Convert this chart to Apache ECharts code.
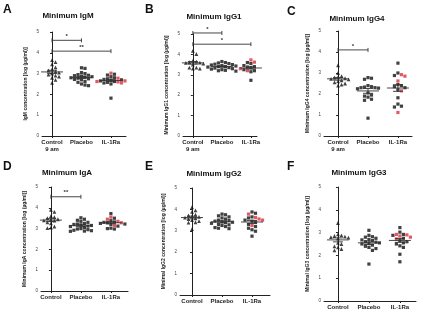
<!DOCTYPE html>
<html>
<head>
<meta charset="utf-8">
<script src="https://cdn.jsdelivr.net/npm/echarts@6/dist/echarts.min.js"></script>
<style>
  html, body { margin: 0; padding: 0; background: #fff; }
  #chart { width: 426px; height: 316px; }
</style>
</head>
<body>
<div id="chart"></div>
<script>
// group labels
const groupsAm = ['Control\n9 am', 'Placebo', 'IL-1Ra'];
const groupsPlain = ['Control', 'Placebo', 'IL-1Ra'];

// A - IgM
const igmControl = [3.65, 3.55, 3.45, 3.3, 3.2, 3.15, 3.1, 3.05, 3.0, 2.95, 2.9, 2.85, 2.8, 2.7, 2.55];
const igmPlacebo = [3.28, 3.25, 3.05, 3.0, 2.95, 2.92, 2.9, 2.88, 2.85, 2.83, 2.8, 2.78, 2.75, 2.72, 2.7, 2.62, 2.58, 2.5, 2.45, 2.42];
const igmIl1raBlack = [2.97, 2.93, 2.85, 2.8, 2.75, 2.72, 2.7, 2.68, 2.65, 2.62, 2.58, 2.55, 2.5, 1.82];
const igmIl1raRed = [3.02, 2.78, 2.65, 2.6, 2.55, 2.62];
const igmSig = [[0, 1, 4.6], [0, 2, 4.08]];
const igmStars = ['*', '**'];

// B - IgG1
const igg1Control = [4.17, 4.02, 3.68, 3.65, 3.62, 3.6, 3.58, 3.55, 3.52, 3.5, 3.35, 3.3, 3.3, 3.35];
const igg1Placebo = [3.65, 3.6, 3.58, 3.55, 3.52, 3.5, 3.48, 3.45, 3.43, 3.4, 3.4, 3.38, 3.35, 3.33, 3.3, 3.28, 3.25, 3.22, 3.2, 3.18];
const igg1Il1raBlack = [3.6, 3.55, 3.5, 3.45, 3.4, 3.38, 3.35, 3.3, 3.28, 3.25, 3.2, 3.15, 2.73];
const igg1Il1raRed = [3.73, 3.62, 3.45, 3.3, 3.2, 3.15, 3.1];
const igg1Sig = [[0, 1, 5.05], [0, 2, 4.5]];
const igg1Stars = ['*', '*'];

// C - IgG4
const igg4Control = [3.37, 3.0, 2.85, 2.8, 2.78, 2.75, 2.72, 2.7, 2.65, 2.6, 2.55, 2.5, 2.45, 2.4];
const igg4Placebo = [2.78, 2.75, 2.7, 2.4, 2.35, 2.33, 2.3, 2.3, 2.28, 2.25, 2.05, 1.95, 1.9, 1.85, 1.75, 1.7, 0.85];
const igg4Il1raBlack = [3.47, 3.0, 2.88, 2.45, 2.4, 2.35, 2.3, 2.2, 1.82, 1.52, 1.42, 1.38];
const igg4Il1raRed = [2.92, 2.85, 2.62, 2.15, 1.12];
const igg4Sig = [[0, 1, 4.1]];
const igg4Stars = ['*'];

// D - IgA
const igaControl = [3.9, 3.8, 3.6, 3.55, 3.5, 3.45, 3.42, 3.4, 3.38, 3.3, 3.25, 3.1, 3.05, 3.02];
const igaPlacebo = [3.52, 3.45, 3.4, 3.35, 3.3, 3.25, 3.22, 3.2, 3.18, 3.15, 3.12, 3.1, 3.05, 3.0, 2.98, 2.95, 2.92, 2.9, 2.88, 2.87];
const igaIl1raBlack = [3.72, 3.5, 3.38, 3.32, 3.3, 3.28, 3.25, 3.22, 3.2, 3.12, 3.02, 3.0, 2.98];
const igaIl1raRed = [3.55, 3.45, 3.35, 3.28, 3.15];
const igaSig = [[0, 1, 4.53]];
const igaStars = ['**'];

// E - IgG2
const igg2Control = [4.1, 3.95, 3.88, 3.75, 3.72, 3.68, 3.65, 3.62, 3.58, 3.55, 3.5, 3.45, 3.4, 3.38, 3.08];
const igg2Placebo = [3.78, 3.75, 3.7, 3.65, 3.6, 3.55, 3.5, 3.48, 3.45, 3.42, 3.4, 3.38, 3.35, 3.3, 3.28, 3.25, 3.2, 3.15, 3.12, 3.1];
const igg2Il1raBlack = [3.88, 3.82, 3.65, 3.6, 3.5, 3.45, 3.4, 3.3, 3.2, 3.12, 3.05, 2.98, 2.75];
const igg2Il1raRed = [3.78, 3.62, 3.55, 3.5, 3.25];

// F - IgG3
const igg3Control = [3.42, 2.92, 2.88, 2.85, 2.82, 2.8, 2.78, 2.75, 2.55, 2.5, 2.4, 2.35, 2.28, 2.22];
const igg3Placebo = [3.1, 2.88, 2.82, 2.8, 2.75, 2.7, 2.68, 2.65, 2.6, 2.58, 2.55, 2.52, 2.5, 2.45, 2.4, 2.35, 2.3, 2.22, 1.62];
const igg3Il1raBlack = [3.22, 3.02, 2.92, 2.88, 2.75, 2.65, 2.6, 2.55, 2.5, 2.42, 2.35, 2.05, 1.72];
const igg3Il1raRed = [2.92, 2.9, 2.85, 2.8, 2.72];

const panels = [
  { letter: 'A', title: 'Minimum IgM', yName: 'IgM concentration [log (µg/ml)]', labels: groupsAm,
    ctrl: igmControl, plac: igmPlacebo, ilB: igmIl1raBlack, ilR: igmIl1raRed, sig: igmSig, stars: igmStars,
    grid: { left: 42, top: 32, width: 84, height: 104 }, xr: [-0.34, 2.51],
    letterAt: [3, 4], titleAt: [68, 12] },
  { letter: 'B', title: 'Minimum IgG1', yName: 'Minimum IgG1 concentration [log (µg/ml)]', labels: groupsAm,
    ctrl: igg1Control, plac: igg1Placebo, ilB: igg1Il1raBlack, ilR: igg1Il1raRed, sig: igg1Sig, stars: igg1Stars,
    grid: { left: 183, top: 34, width: 74, height: 102 }, xr: [-0.34, 2.21],
    letterAt: [145, 4], titleAt: [214, 13] },
  { letter: 'C', title: 'Minimum IgG4', yName: 'Minimum IgG4 concentration [log (µg/ml)]', labels: groupsAm,
    ctrl: igg4Control, plac: igg4Placebo, ilB: igg4Il1raBlack, ilR: igg4Il1raRed, sig: igg4Sig, stars: igg4Stars,
    grid: { left: 324, top: 31, width: 88, height: 105 }, xr: [-0.47, 2.47],
    letterAt: [287, 6], titleAt: [357, 15] },
  { letter: 'D', title: 'Minimum IgA', yName: 'Minimum IgA concentration [log (µg/ml)]', labels: groupsPlain,
    ctrl: igaControl, plac: igaPlacebo, ilB: igaIl1raBlack, ilR: igaIl1raRed, sig: igaSig, stars: igaStars,
    grid: { left: 41, top: 187, width: 87, height: 104 }, xr: [-0.33, 2.57],
    letterAt: [3, 161], titleAt: [67, 169] },
  { letter: 'E', title: 'Minimum IgG2', yName: 'Minimal IgG2 concentration [log (µg/ml)]', labels: groupsPlain,
    ctrl: igg2Control, plac: igg2Placebo, ilB: igg2Il1raBlack, ilR: igg2Il1raRed, sig: [], stars: [],
    grid: { left: 180, top: 188, width: 90, height: 107 }, xr: [-0.4, 2.6],
    letterAt: [145, 161], titleAt: [214, 170] },
  { letter: 'F', title: 'Minimum IgG3', yName: 'Minimal IgG3 concentration [log (µg/ml)]', labels: groupsPlain,
    ctrl: igg3Control, plac: igg3Placebo, ilB: igg3Il1raBlack, ilR: igg3Il1raRed, sig: [], stars: [],
    grid: { left: 324, top: 187, width: 92, height: 114 }, xr: [-0.45, 2.52],
    letterAt: [287, 161], titleAt: [359, 169] },
];

const DOT = 3.5;      // px spacing between neighbouring dots
const MAX_OFF = 14;   // px, widest spread either side of the category
const FONT = 'Liberation Sans, Arial, sans-serif';

// compact beeswarm: offset (px) per value; allows slight overlap when crowded
function swarm(values, pxPerUnit) {
  const order = values.map((v, i) => i).sort((a, b) => values[b] - values[a]);
  const placed = [];
  const off = new Array(values.length).fill(0);
  order.forEach(i => {
    const y = values[i] * pxPerUnit;
    let best = 0, bestD = -1;
    for (let k = 0; k < 40; k++) {
      const o = k === 0 ? 0 : (k % 2 ? 1 : -1) * Math.ceil(k / 2) * DOT;
      if (Math.abs(o) > MAX_OFF) break;
      const d = placed.length ? Math.min(...placed.map(p => Math.hypot(p[0] - o, p[1] - y))) : 99;
      if (d >= DOT) { best = o; bestD = d; break; }
      if (d > bestD) { bestD = d; best = o; }
    }
    placed.push([best, y]); off[i] = best;
  });
  return off;
}

function meanSem(a) {
  const m = a.reduce((s, v) => s + v, 0) / a.length;
  const sd = Math.sqrt(a.reduce((s, v) => s + (v - m) * (v - m), 0) / (a.length - 1));
  return [m, sd / Math.sqrt(a.length)];
}

const grids = [], xAxes = [], yAxes = [], series = [], graphic = [];

panels.forEach((p, gi) => {
  grids.push(p.grid);
  const pxX = p.grid.width / (p.xr[1] - p.xr[0]);
  const pxY = p.grid.height / 5;
  xAxes.push({
    gridIndex: gi, type: 'value', min: p.xr[0], max: p.xr[1],
    axisLine: { lineStyle: { color: '#222', width: 1 } },
    axisTick: { customValues: [0, 1, 2], length: 2, lineStyle: { color: '#222' } },
    axisLabel: {
      customValues: [0, 1, 2], formatter: v => p.labels[Math.round(v)],
      fontFamily: FONT, fontSize: 6, fontWeight: 'bold', color: '#222', lineHeight: 7, margin: 3,
    },
    splitLine: { show: false },
  });
  yAxes.push({
    gridIndex: gi, type: 'value', min: 0, max: 5, interval: 1,
    name: p.yName, nameLocation: 'middle', nameGap: 14, nameRotate: 90,
    nameTextStyle: { fontFamily: FONT, fontSize: 5, fontWeight: 'bold', color: '#222' },
    axisLine: { show: true, lineStyle: { color: '#222', width: 1 } },
    axisTick: { show: true, length: 2, lineStyle: { color: '#222' } },
    axisLabel: { fontFamily: FONT, fontSize: 4.5, color: '#444', margin: 3 },
    splitLine: { show: false },
  });

  const ctrlOff = swarm(p.ctrl, pxY);
  const placOff = swarm(p.plac, pxY);
  const il = p.ilB.concat(p.ilR);
  const ilOff = swarm(il, pxY);
  const nb = p.ilB.length;

  const common = { xAxisIndex: gi, yAxisIndex: gi, type: 'scatter', silent: true };
  series.push(Object.assign({}, common, {
    symbol: 'triangle', symbolSize: 3.8, itemStyle: { color: '#111' },
    data: p.ctrl.map((v, i) => [0 + ctrlOff[i] / pxX, v]),
  }));
  series.push(Object.assign({}, common, {
    symbol: 'rect', symbolSize: 3.2, itemStyle: { color: '#111' },
    data: p.plac.map((v, i) => [1 + placOff[i] / pxX, v]),
  }));
  series.push(Object.assign({}, common, {
    symbol: 'rect', symbolSize: 3.2, itemStyle: { color: '#111' },
    data: p.ilB.map((v, i) => [2 + ilOff[i] / pxX, v]),
  }));
  series.push(Object.assign({}, common, {
    symbol: 'rect', symbolSize: 3.2, itemStyle: { color: '#d9303e' },
    data: p.ilR.map((v, i) => [2 + ilOff[nb + i] / pxX, v]),
  }));

  // mean line with SEM bars
  const stats = [p.ctrl, p.plac, il].map((a, i) => [i].concat(meanSem(a)));
  series.push({
    type: 'custom', xAxisIndex: gi, yAxisIndex: gi, silent: true, z: 5,
    data: stats,
    renderItem: (params, api) => {
      const x = api.value(0), m = api.value(1), s = api.value(2);
      const c = api.coord([x, m]), lo = api.coord([x, m - s]), hi = api.coord([x, m + s]);
      const st = { stroke: '#333', lineWidth: 0.9 };
      return { type: 'group', children: [
        { type: 'line', shape: { x1: c[0] - 11, y1: c[1], x2: c[0] + 11, y2: c[1] }, style: st },
        { type: 'line', shape: { x1: c[0], y1: lo[1], x2: c[0], y2: hi[1] }, style: st },
        { type: 'line', shape: { x1: c[0] - 5, y1: lo[1], x2: c[0] + 5, y2: lo[1] }, style: st },
        { type: 'line', shape: { x1: c[0] - 5, y1: hi[1], x2: c[0] + 5, y2: hi[1] }, style: st },
      ] };
    },
  });

  // significance brackets
  if (p.sig.length) {
    series.push({
      type: 'custom', xAxisIndex: gi, yAxisIndex: gi, silent: true, clip: false,
      data: p.sig,
      renderItem: (params, api) => {
        const a = api.coord([api.value(0), api.value(2)]);
        const b = api.coord([api.value(1), api.value(2)]);
        const st = { stroke: '#333', lineWidth: 0.9 };
        return { type: 'group', children: [
          { type: 'line', shape: { x1: a[0], y1: a[1], x2: b[0], y2: b[1] }, style: st },
          { type: 'line', shape: { x1: a[0], y1: a[1] - 2, x2: a[0], y2: a[1] + 2 }, style: st },
          { type: 'line', shape: { x1: b[0], y1: b[1] - 2, x2: b[0], y2: b[1] + 2 }, style: st },
          { type: 'text', style: { x: (a[0] + b[0]) / 2, y: a[1] - 1, text: p.stars[params.dataIndex],
            fill: '#333', font: 'bold 6px ' + FONT, textAlign: 'center', textVerticalAlign: 'bottom' } },
        ] };
      },
    });
  }

  graphic.push({ type: 'text', left: p.letterAt[0], top: p.letterAt[1],
    style: { text: p.letter, font: 'bold 12px ' + FONT, fill: '#111' } });
  graphic.push({ type: 'text', x: p.titleAt[0], y: p.titleAt[1],
    style: { text: p.title, font: 'bold 8px ' + FONT, fill: '#111', textAlign: 'center' } });
});

const chart = echarts.init(document.getElementById('chart'), null, { renderer: 'canvas' });
chart.setOption({
  animation: false,
  grid: grids,
  xAxis: xAxes,
  yAxis: yAxes,
  series: series,
  graphic: graphic,
});
</script>
</body>
</html>
